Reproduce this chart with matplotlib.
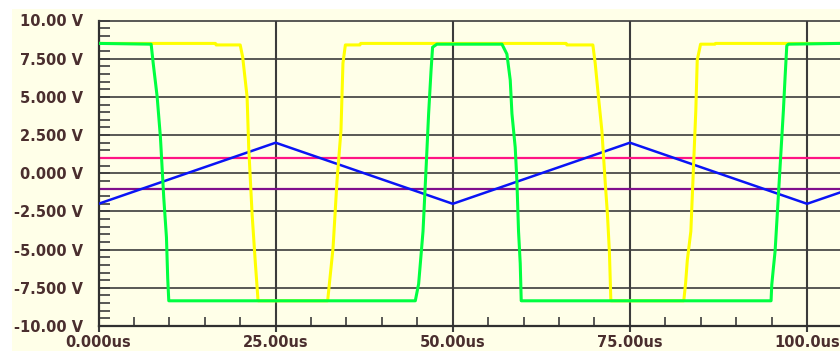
import numpy as np
import matplotlib
matplotlib.use("Agg")
import matplotlib.pyplot as plt
from matplotlib.patches import Rectangle
from matplotlib.ticker import MultipleLocator

# time axis in microseconds, voltages in volts
tri_t = [0, 25, 50, 75, 100, 104.65]
tri_v = [-2.0, 2.0, -2.0, 2.0, -2.0, -1.26]

ref_hi_v = 1.0   # pink reference
ref_lo_v = -1.0  # purple reference

yellow_t = [0, 16.5, 16.6, 20.0, 20.35, 20.97, 21.2, 21.68, 22.14, 22.52,
            32.34, 33.1, 33.66, 34.22, 34.5, 34.84, 36.9, 37.0,
            66.0, 66.1, 69.77, 70.1, 70.56, 71.04, 71.5, 71.83, 72.11, 72.31,
            82.6, 82.86, 83.1, 83.6, 84.3, 84.5, 84.97, 87.0, 87.1, 104.65]
yellow_v = [8.5, 8.5, 8.4, 8.4, 7.6, 5.0, 1.7, -2.7, -5.9, -8.35,
            -8.35, -4.9, -0.5, 2.8, 7.2, 8.4, 8.4, 8.5,
            8.5, 8.4, 8.4, 7.2, 5.0, 2.8, -0.5, -2.7, -5.2, -8.35,
            -8.35, -7.2, -5.7, -3.8, 4.1, 7.4, 8.45, 8.45, 8.5, 8.5]

green_t = [0, 7.43, 7.72, 8.28, 8.74, 9.21, 9.59, 9.77, 9.92,
           44.71, 45.18, 45.8, 46.26, 46.59, 46.93, 47.15, 47.76,
           56.94, 57.64, 58.11, 58.35, 58.81, 59.05, 59.28, 59.52, 59.66,
           94.92, 95.02, 95.25, 95.49, 96.66, 96.9, 97.14, 97.37, 104.65]
green_v = [8.5, 8.45, 7.2, 5.0, 2.35, -1.6, -4.2, -6.9, -8.35,
           -8.35, -7.25, -3.8, 0.6, 3.9, 6.7, 8.25, 8.45,
           8.45, 7.8, 6.1, 3.9, 1.7, -0.5, -3.8, -5.9, -8.35,
           -8.35, -7.3, -6.2, -5.1, 4.1, 6.3, 8.35, 8.45, 8.5]

yticks = [-10, -7.5, -5, -2.5, 0, 2.5, 5, 7.5, 10]
ytick_labels = ["-10.00 V", "-7.500 V", "-5.000 V", "-2.500 V", "0.000 V",
                "2.500 V", "5.000 V", "7.500 V", "10.00 V"]
xticks = [0, 25, 50, 75, 100]
xtick_labels = ["0.000us", "25.00us", "50.00us", "75.00us", "100.0us"]

cream = "#FFFFE8"
gridc = "#3c3c3c"
textc = "#4a2e2e"

W, H = 840, 351
fig = plt.figure(figsize=(W / 100, H / 100), dpi=100)
fig.patch.set_facecolor("white")
fig.add_artist(Rectangle((12 / W, 0), 1, (H - 9) / H, transform=fig.transFigure,
                         facecolor=cream, edgecolor="none", zorder=0))

left, right, top, bottom = 98.5, 840, 20.5, 326
ax = fig.add_axes([left / W, (H - bottom) / H, (right - left) / W, (bottom - top) / H])
ax.set_facecolor(cream)
ax.set_xlim(0, 104.65)
ax.set_ylim(-10, 10)

# grid
for y in yticks[1:-1]:
    ax.axhline(y, color=gridc, lw=1.2, zorder=1)
for x in xticks[1:]:
    ax.axvline(x, color=gridc, lw=1.5, zorder=1)

ax.plot([0, 104.65], [ref_hi_v, ref_hi_v], color="#FF1484", lw=1.6, zorder=2)
ax.plot([0, 104.65], [ref_lo_v, ref_lo_v], color="#80108C", lw=1.6, zorder=2)
ax.plot(tri_t, tri_v, color="#0A14F5", lw=1.8, zorder=3)
ax.plot(yellow_t, yellow_v, color="#FFFF00", lw=2.2, zorder=4)
ax.plot(green_t, green_v, color="#00FF40", lw=2.2, zorder=5)

for s in ["right"]:
    ax.spines[s].set_visible(False)
ax.spines["top"].set_color(gridc)
ax.spines["top"].set_linewidth(1.2)
ax.spines["left"].set_color("#303030")
ax.spines["left"].set_linewidth(1.6)
ax.spines["bottom"].set_color("#303030")
ax.spines["bottom"].set_linewidth(1.6)

ax.set_yticks(yticks)
ax.set_yticklabels(ytick_labels)
ax.set_xticks(xticks)
ax.set_xticklabels(xtick_labels)
ax.yaxis.set_minor_locator(MultipleLocator(0.5))
ax.xaxis.set_minor_locator(MultipleLocator(5))

ax.tick_params(axis="y", which="major", direction="in", length=8, width=1.2,
               color=gridc, pad=11, labelsize=10.5, labelcolor=textc)
ax.tick_params(axis="y", which="minor", direction="in", length=8, width=1.2, color=gridc)
ax.tick_params(axis="x", which="major", direction="out", length=4.5, width=1.5,
               color=gridc, pad=2, labelsize=10.5, labelcolor=textc)
ax.tick_params(axis="x", which="minor", direction="in", length=6.5, width=1.2, color=gridc)
for lab in ax.get_xticklabels() + ax.get_yticklabels():
    lab.set_fontweight("bold")
    lab.set_fontfamily("DejaVu Sans")

fig.savefig("out.png", dpi=100, facecolor=fig.get_facecolor())
